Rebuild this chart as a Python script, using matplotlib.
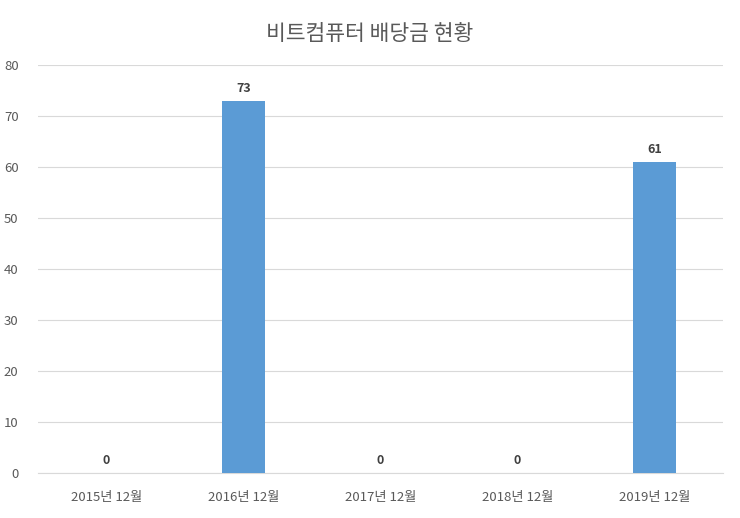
import matplotlib
matplotlib.use('Agg')
import matplotlib.pyplot as plt

plt.rcParams['font.family'] = ['Noto Sans CJK KR', 'DejaVu Sans']

categories = ['2015년 12월', '2016년 12월', '2017년 12월', '2018년 12월', '2019년 12월']
dividends = [0, 73, 0, 0, 61]

fig = plt.figure(figsize=(7.4, 5.18), dpi=100)
ax = fig.add_axes([0.0514, 0.0869, 0.9256, 0.7876])

x = range(len(categories))
bars = ax.bar(x, dividends, width=0.31, color='#5B9BD5', zorder=3)
for xi, v in zip(x, dividends):
    ax.text(xi, v + 1.1, str(v), ha='center', va='bottom', fontsize=9,
            fontweight='bold', color='#404040')

ax.set_xlim(-0.5, len(categories) - 0.5)
ax.set_ylim(0, 80)
ax.set_yticks(range(0, 81, 10))
ax.set_xticks(list(x))
ax.set_xticklabels(categories)
ax.yaxis.grid(True, color='#D9D9D9', linewidth=0.8, zorder=0)
for s in ['top', 'right', 'left']:
    ax.spines[s].set_visible(False)
ax.spines['bottom'].set_color('#D9D9D9')
ax.tick_params(axis='both', length=0, colors='#595959', labelsize=9.5)
ax.tick_params(axis='x', pad=13)
ax.tick_params(axis='y', pad=14)

fig.text(0.5, 0.935, '비트컴퓨터 배당금 현황', ha='center', va='center',
         fontsize=15.5, color='#595959')

fig.savefig('out.png', dpi=100)
